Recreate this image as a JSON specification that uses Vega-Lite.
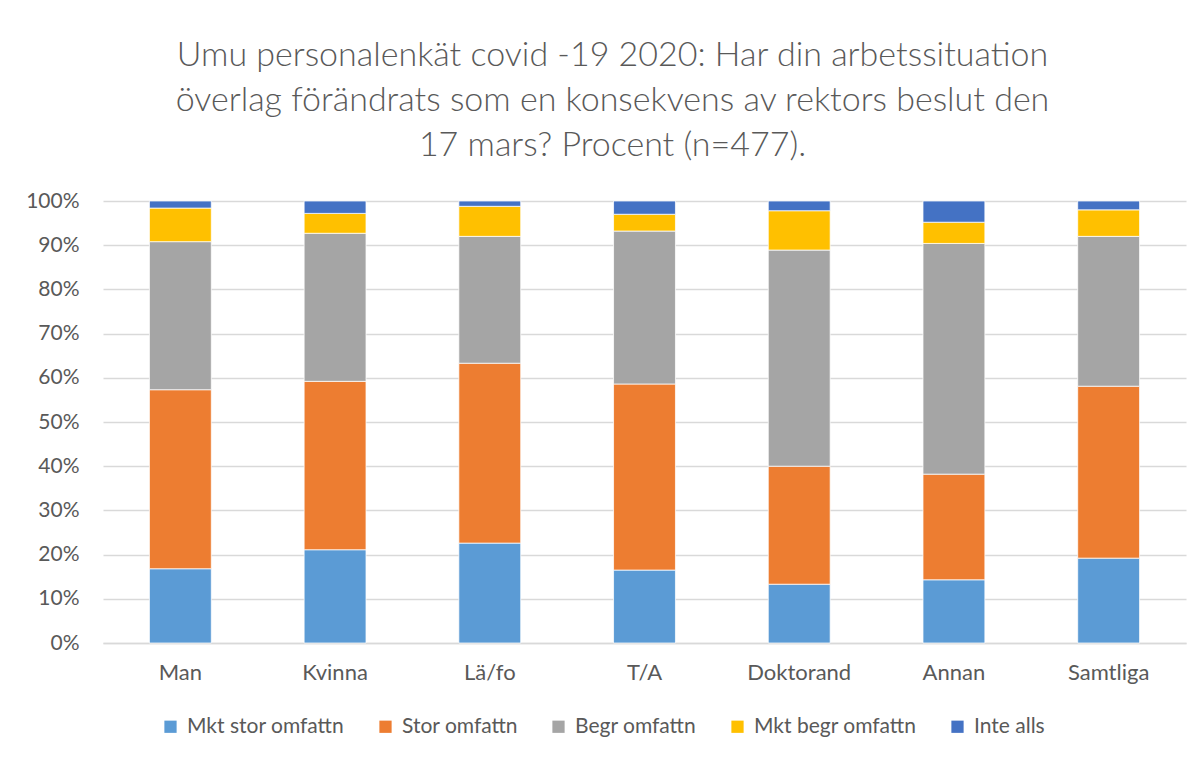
{
  "$schema": "https://vega.github.io/schema/vega-lite/v6.json",
  "width": 1083,
  "height": 442,
  "autosize": {"type": "none"},
  "padding": {"left": 103, "top": 201, "right": 16, "bottom": 115},
  "background": "white",
  "title": {
    "text": ["Umu personalenkät covid -19 2020: Har din arbetssituation", "överlag förändrats som en konsekvens av rektors beslut den", "17 mars? Procent (n=477)."],
    "font": "Lato",
    "fontSize": 34,
    "fontWeight": 300,
    "color": "#595959",
    "lineHeight": 45,
    "anchor": "middle",
    "dx": -32,
    "offset": 27
  },
  "data": {
    "values": [
      {"grupp": "Man", "svar": "Mkt stor omfattn", "ordning": 1, "procent": 16.8},
      {"grupp": "Man", "svar": "Stor omfattn", "ordning": 2, "procent": 40.5},
      {"grupp": "Man", "svar": "Begr omfattn", "ordning": 3, "procent": 33.5},
      {"grupp": "Man", "svar": "Mkt begr omfattn", "ordning": 4, "procent": 7.6},
      {"grupp": "Man", "svar": "Inte alls", "ordning": 5, "procent": 1.6},
      {"grupp": "Kvinna", "svar": "Mkt stor omfattn", "ordning": 1, "procent": 21.1},
      {"grupp": "Kvinna", "svar": "Stor omfattn", "ordning": 2, "procent": 38.1},
      {"grupp": "Kvinna", "svar": "Begr omfattn", "ordning": 3, "procent": 33.5},
      {"grupp": "Kvinna", "svar": "Mkt begr omfattn", "ordning": 4, "procent": 4.5},
      {"grupp": "Kvinna", "svar": "Inte alls", "ordning": 5, "procent": 2.8},
      {"grupp": "Lä/fo", "svar": "Mkt stor omfattn", "ordning": 1, "procent": 22.6},
      {"grupp": "Lä/fo", "svar": "Stor omfattn", "ordning": 2, "procent": 40.7},
      {"grupp": "Lä/fo", "svar": "Begr omfattn", "ordning": 3, "procent": 28.7},
      {"grupp": "Lä/fo", "svar": "Mkt begr omfattn", "ordning": 4, "procent": 6.8},
      {"grupp": "Lä/fo", "svar": "Inte alls", "ordning": 5, "procent": 1.2},
      {"grupp": "T/A", "svar": "Mkt stor omfattn", "ordning": 1, "procent": 16.5},
      {"grupp": "T/A", "svar": "Stor omfattn", "ordning": 2, "procent": 42.1},
      {"grupp": "T/A", "svar": "Begr omfattn", "ordning": 3, "procent": 34.6},
      {"grupp": "T/A", "svar": "Mkt begr omfattn", "ordning": 4, "procent": 3.8},
      {"grupp": "T/A", "svar": "Inte alls", "ordning": 5, "procent": 3.0},
      {"grupp": "Doktorand", "svar": "Mkt stor omfattn", "ordning": 1, "procent": 13.3},
      {"grupp": "Doktorand", "svar": "Stor omfattn", "ordning": 2, "procent": 26.7},
      {"grupp": "Doktorand", "svar": "Begr omfattn", "ordning": 3, "procent": 48.9},
      {"grupp": "Doktorand", "svar": "Mkt begr omfattn", "ordning": 4, "procent": 8.9},
      {"grupp": "Doktorand", "svar": "Inte alls", "ordning": 5, "procent": 2.2},
      {"grupp": "Annan", "svar": "Mkt stor omfattn", "ordning": 1, "procent": 14.3},
      {"grupp": "Annan", "svar": "Stor omfattn", "ordning": 2, "procent": 23.9},
      {"grupp": "Annan", "svar": "Begr omfattn", "ordning": 3, "procent": 52.2},
      {"grupp": "Annan", "svar": "Mkt begr omfattn", "ordning": 4, "procent": 4.8},
      {"grupp": "Annan", "svar": "Inte alls", "ordning": 5, "procent": 4.8},
      {"grupp": "Samtliga", "svar": "Mkt stor omfattn", "ordning": 1, "procent": 19.2},
      {"grupp": "Samtliga", "svar": "Stor omfattn", "ordning": 2, "procent": 38.9},
      {"grupp": "Samtliga", "svar": "Begr omfattn", "ordning": 3, "procent": 33.9},
      {"grupp": "Samtliga", "svar": "Mkt begr omfattn", "ordning": 4, "procent": 6.0},
      {"grupp": "Samtliga", "svar": "Inte alls", "ordning": 5, "procent": 2.0}
    ]
  },
  "mark": {"type": "bar", "stroke": "white", "strokeWidth": 0.75},
  "encoding": {
    "x": {
      "field": "grupp",
      "type": "nominal",
      "sort": ["Man", "Kvinna", "Lä/fo", "T/A", "Doktorand", "Annan", "Samtliga"],
      "scale": {"paddingInner": 0.6, "paddingOuter": 0.3},
      "axis": {
        "title": null,
        "labelAngle": 0,
        "labelFont": "Lato",
        "labelFontSize": 22,
        "labelColor": "#595959",
        "labelPadding": 19,
        "ticks": false,
        "domainColor": "#D9D9D9",
        "domainWidth": 1.3,
        "grid": false
      }
    },
    "y": {
      "field": "procent",
      "type": "quantitative",
      "stack": "normalize",
      "scale": {"domain": [0, 1], "nice": false},
      "axis": {
        "title": null,
        "format": ".0%",
        "values": [0, 0.1, 0.2, 0.3, 0.4, 0.5, 0.6, 0.7, 0.8, 0.9, 1],
        "labelFont": "Lato",
        "labelFontSize": 21,
        "labelColor": "#595959",
        "labelPadding": 24,
        "ticks": false,
        "domain": false,
        "gridColor": "#D9D9D9",
        "gridWidth": 1.3
      }
    },
    "color": {
      "field": "svar",
      "type": "nominal",
      "sort": ["Mkt stor omfattn", "Stor omfattn", "Begr omfattn", "Mkt begr omfattn", "Inte alls"],
      "scale": {
        "domain": ["Mkt stor omfattn", "Stor omfattn", "Begr omfattn", "Mkt begr omfattn", "Inte alls"],
        "range": ["#5B9BD5", "#ED7D31", "#A5A5A5", "#FFC000", "#4472C4"]
      },
      "legend": {
        "title": null,
        "orient": "none",
        "legendX": 57,
        "legendY": 515,
        "direction": "horizontal",
        "columns": 5,
        "symbolType": "square",
        "symbolSize": 150,
        "symbolStrokeWidth": 0,
        "labelFont": "Lato",
        "labelFontSize": 21,
        "labelColor": "#595959",
        "labelLimit": 0,
        "labelOffset": 6,
        "columnPadding": 30
      }
    },
    "order": {"field": "ordning", "type": "quantitative"}
  },
  "config": {
    "view": {"stroke": null}
  }
}
